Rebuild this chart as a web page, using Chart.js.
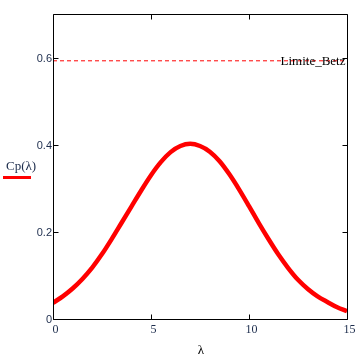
<!DOCTYPE html>
<html>
<head>
<meta charset="utf-8">
<script src="https://cdn.jsdelivr.net/npm/chart.js@4/dist/chart.umd.min.js"></script>
<style>
html,body{margin:0;padding:0;background:#fff;}
#wrap{position:relative;width:361px;height:357px;}
</style>
</head>
<body>
<div id="wrap"><canvas id="c"></canvas></div>
<script>
// Data
const lambdaValues = [0,0.5,1,1.5,2,2.5,3,3.5,4,4.5,5,5.5,6,6.5,7,7.5,8,8.5,9,9.5,10,10.5,11,11.5,12,12.5,13,13.5,14,14.5,15];
const cpValues = [0.037,0.052,0.070,0.092,0.118,0.149,0.184,0.221,0.258,0.295,0.330,0.360,0.383,0.397,0.402,0.397,0.384,0.362,0.332,0.297,0.259,0.220,0.183,0.148,0.117,0.090,0.069,0.052,0.039,0.027,0.018];
const betzLimit = 16/27;
const xTickValues = [0,5,10,15];
const xTickLabels = ["0","5","10","15"];
const yTickValues = [0,0.2,0.4,0.6];
const yTickLabels = ["0","0.2","0.4","0.6"];
const xAxisTitle = "λ";
const yAxisTitle = "Cp(λ)";
const betzLabel = "Limite_Betz";

const curve = lambdaValues.map((x,i)=>({x:x,y:cpValues[i]}));
const betzLine = [{x:lambdaValues[0],y:betzLimit},{x:lambdaValues[lambdaValues.length-1],y:betzLimit}];

const decor = {
  id:'decor',
  afterDraw(chart){
    const ctx = chart.ctx, a = chart.chartArea;
    const xs = chart.scales.x, ys = chart.scales.y;
    const L = Math.round(a.left)+0.5, R = Math.round(a.right)+0.5;
    const T = Math.round(a.top)+0.5, B = Math.round(a.bottom)+0.5;
    ctx.save();
    ctx.strokeStyle = '#000';
    ctx.lineWidth = 1;
    ctx.beginPath();
    ctx.rect(L,T,R-L,B-T);
    ctx.stroke();
    // inner ticks
    ctx.beginPath();
    xTickValues.forEach(v=>{
      const px = Math.round(xs.getPixelForValue(v))+0.5;
      ctx.moveTo(px,B); ctx.lineTo(px,B-5);
      ctx.moveTo(px,T); ctx.lineTo(px,T+5);
    });
    yTickValues.forEach(v=>{
      const py = Math.round(ys.getPixelForValue(v))+0.5;
      ctx.moveTo(L,py); ctx.lineTo(L+5,py);
      ctx.moveTo(R,py); ctx.lineTo(R-5,py);
    });
    ctx.stroke();
    // x tick labels
    ctx.fillStyle = '#1c2c4c';
    ctx.font = '12px "Liberation Serif", "Times New Roman", serif';
    ctx.textAlign = 'center';
    ctx.textBaseline = 'middle';
    xTickValues.forEach((v,i)=>{
      ctx.fillText(xTickLabels[i], xs.getPixelForValue(v)+2.5, B+10);
    });
    // y tick labels
    ctx.font = '11px "Liberation Sans", Arial, sans-serif';
    ctx.textAlign = 'right';
    yTickValues.forEach((v,i)=>{
      ctx.fillText(yTickLabels[i], L-1.5, ys.getPixelForValue(v)+1);
    });
    // axis titles
    ctx.fillStyle = '#000';
    ctx.font = '13px "Liberation Serif", "Times New Roman", serif';
    ctx.textAlign = 'center';
    ctx.fillText(xAxisTitle, (a.left+a.right)/2+1, 351);
    ctx.textAlign = 'left';
    ctx.fillStyle = '#1c2c4c';
    ctx.fillText(yAxisTitle, 6, 167);
    ctx.fillStyle = '#ff0000';
    ctx.fillRect(3,176,28,3);
    // Betz label
    ctx.fillStyle = '#000';
    ctx.textAlign = 'right';
    ctx.fillText(betzLabel, R-2, ys.getPixelForValue(betzLimit)+1);
    ctx.restore();
  }
};

new Chart(document.getElementById('c'),{
  type:'line',
  data:{datasets:[
    {data:betzLine, borderColor:'#ff0000', borderWidth:1, borderDash:[4,3], pointRadius:0, tension:0},
    {data:curve, borderColor:'#ff0000', borderWidth:4.5, pointRadius:0, cubicInterpolationMode:'monotone'}
  ]},
  options:{
    responsive:true, maintainAspectRatio:false, animation:false,
    layout:{padding:{left:53,right:14,top:14,bottom:38}},
    plugins:{legend:{display:false},tooltip:{enabled:false}},
    scales:{
      x:{type:'linear',min:0,max:15,display:false},
      y:{type:'linear',min:0,max:0.7,display:false}
    }
  },
  plugins:[decor]
});
</script>
</body>
</html>
